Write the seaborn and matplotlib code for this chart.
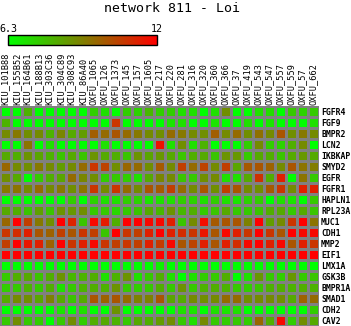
import numpy as np
import pandas as pd
import matplotlib
matplotlib.use("Agg")
import matplotlib.pyplot as plt
from matplotlib.colors import LinearSegmentedColormap
from matplotlib.cm import ScalarMappable
from matplotlib.colors import Normalize
import seaborn as sns

title = "network 811 - Loi"
vmin, vmax = 6.3, 12

samples = [
    "KIU_101B88", "KIU_155B52", "KIU_164B61", "KIU_188B13", "KIU_303C36",
    "KIU_304C89", "KIU_308C93", "KIU_86A40", "OXFU_1065", "OXFU_126",
    "OXFU_1373", "OXFU_145", "OXFU_157", "OXFU_1605", "OXFU_217",
    "OXFU_220", "OXFU_281", "OXFU_316", "OXFU_320", "OXFU_360",
    "OXFU_366", "OXFU_37", "OXFU_419", "OXFU_543", "OXFU_547",
    "OXFU_557", "OXFU_559", "OXFU_57", "OXFU_662",
]

genes = [
    "FGFR4", "FGF9", "BMPR2", "LCN2", "IKBKAP", "SMYD2", "EGFR", "FGFR1",
    "HAPLN1", "RPL23A", "MUC1", "CDH1", "MMP2", "EIF1", "LMX1A", "GSK3B",
    "BMPR1A", "SMAD1", "CDH2", "CAV2",
]

FGFR4 = [6.0, 6.1, 8.0, 6.0, 6.1, 6.0, 6.1, 6.0, 7.4, 7.0, 6.0, 7.4, 7.3, 7.9, 7.4,
         7.4, 7.0, 7.0, 6.1, 7.0, 8.8, 6.0, 6.1, 7.0, 7.1, 6.2, 7.5, 7.3, 7.5]
FGF9 = [8.0, 6.0, 6.1, 6.0, 6.0, 6.1, 6.0, 6.0, 6.1, 6.2, 10.8, 6.0, 6.1, 6.0, 6.1,
        6.9, 7.0, 6.2, 6.0, 6.9, 6.1, 6.0, 7.0, 6.1, 6.9, 6.2, 6.0, 6.1, 7.0]
BMPR2 = [8.9, 9.3, 8.8, 8.9, 8.0, 9.0, 8.2, 8.5, 9.9, 9.6, 10.1, 9.6, 9.3, 8.9, 8.8,
         9.6, 9.3, 8.9, 8.8, 9.9, 8.9, 9.6, 8.8, 9.5, 8.9, 10.1, 8.8, 9.3, 8.9]
LCN2 = [6.0, 6.1, 9.4, 6.0, 7.0, 6.0, 6.1, 6.0, 6.1, 7.0, 6.0, 6.1, 6.0, 6.2, 11.6,
        7.0, 8.8, 7.0, 8.0, 6.0, 6.1, 6.0, 7.4, 8.9, 7.4, 7.3, 8.1, 8.9, 6.0]
IKBKAP = [8.2, 8.1, 8.7, 8.3, 8.0, 7.6, 8.2, 7.6, 8.7, 8.2, 8.1, 7.6, 8.7, 8.3, 8.6,
          8.2, 7.6, 8.1, 8.2, 7.6, 8.7, 8.6, 7.5, 8.2, 8.1, 7.6, 8.2, 8.6, 8.2]
SMYD2 = [9.7, 8.9, 8.8, 9.3, 8.9, 8.5, 8.9, 9.6, 10.8, 10.5, 8.8, 9.7, 9.6, 8.8, 10.0,
         8.9, 10.6, 9.6, 10.5, 8.9, 10.6, 8.3, 10.0, 10.1, 9.8, 8.9, 10.1, 9.4, 9.2]
EGFR = [8.8, 8.2, 6.0, 7.5, 8.1, 8.3, 9.6, 9.0, 8.8, 7.4, 7.5, 7.4, 7.0, 8.2, 9.0,
        8.9, 7.6, 7.5, 8.8, 8.9, 7.0, 7.0, 8.2, 10.9, 8.1, 11.3, 6.1, 9.4, 7.5]
FGFR1 = [9.3, 9.4, 8.9, 9.6, 8.9, 9.3, 8.8, 9.4, 10.8, 8.9, 10.8, 9.6, 8.9, 10.1, 10.0,
         10.6, 9.6, 8.9, 10.1, 8.8, 10.6, 10.1, 8.9, 8.8, 10.0, 10.8, 8.9, 11.3, 11.3]
HAPLN1 = [6.0, 6.1, 6.0, 6.1, 6.0, 6.1, 7.4, 6.0, 7.3, 7.0, 7.0, 7.4, 7.3, 6.9, 7.0,
          7.0, 7.4, 7.3, 7.0, 7.4, 7.0, 6.9, 7.3, 7.4, 6.1, 7.0, 6.9, 6.0, 7.5]
RPL23A = [8.2, 8.1, 7.6, 8.4, 7.6, 8.7, 8.6, 8.8, 7.5, 7.5, 7.2, 7.5, 7.6, 8.2, 7.9,
          8.7, 7.9, 8.1, 7.5, 7.6, 8.2, 7.5, 7.5, 7.6, 8.1, 8.2, 7.5, 8.2, 7.6]
MUC1 = [9.7, 12.1, 10.6, 9.3, 8.8, 12.3, 11.2, 7.6, 11.8, 11.4, 8.1, 12.2, 12.0, 11.8, 11.8,
        11.3, 7.6, 8.9, 11.7, 10.0, 10.1, 10.1, 9.1, 12.0, 8.5, 8.9, 10.8, 12.3, 9.4]
CDH1 = [10.8, 11.0, 11.3, 10.1, 9.8, 10.6, 10.1, 10.8, 10.6, 7.6, 12.1, 10.8, 10.6, 11.3, 12.0,
        11.3, 11.0, 10.8, 11.5, 10.1, 11.8, 11.3, 10.8, 12.1, 10.8, 10.1, 12.3, 11.8, 11.8]
MMP2 = [10.6, 12.1, 11.5, 11.3, 9.8, 12.3, 10.8, 11.3, 11.8, 10.8, 10.6, 10.8, 10.6, 11.3, 10.7,
        11.8, 10.1, 10.5, 11.3, 10.1, 11.3, 11.0, 11.8, 12.2, 11.3, 11.8, 10.1, 11.3, 10.8]
EIF1 = [12.4, 12.6, 12.3, 12.5, 12.2, 12.4, 12.7, 12.3, 12.5, 12.2, 12.6, 12.4, 12.3, 12.5, 12.4,
        12.6, 12.2, 12.5, 12.3, 12.4, 12.6, 12.3, 12.5, 12.2, 12.4, 12.6, 12.3, 12.5, 12.4]
LMX1A = [5.8, 5.9, 6.0, 5.7, 5.9, 6.0, 5.8, 5.9, 5.7, 6.0, 5.8, 5.9, 6.0, 5.8, 6.6,
         5.9, 6.0, 5.8, 5.7, 5.9, 6.0, 5.8, 5.9, 6.0, 5.7, 5.8, 6.0, 5.9, 5.8]
GSK3B = [7.5, 8.1, 8.2, 7.6, 8.1, 8.7, 7.9, 8.0, 8.1, 7.0, 8.0, 8.7, 7.0, 7.5, 8.1,
         7.0, 6.1, 7.0, 7.4, 7.5, 8.1, 6.0, 7.0, 8.6, 7.5, 7.4, 8.6, 7.5, 7.6]
BMPR1A = [7.4, 7.5, 8.0, 7.5, 8.1, 7.0, 7.5, 8.0, 8.1, 8.0, 8.7, 7.5, 7.4, 7.5, 8.1,
          7.5, 8.7, 7.5, 8.0, 8.1, 8.0, 7.5, 7.4, 7.6, 8.0, 8.1, 8.0, 8.1, 8.0]
SMAD1 = [8.2, 8.9, 8.8, 8.3, 9.1, 8.2, 7.6, 8.2, 10.1, 9.8, 10.1, 9.6, 9.1, 9.1, 10.1,
         8.3, 8.2, 8.9, 8.8, 8.9, 9.6, 9.6, 8.8, 8.9, 8.9, 8.8, 8.2, 9.8, 9.6]
CDH2 = [6.0, 6.1, 6.0, 6.1, 6.0, 6.9, 6.1, 7.0, 6.2, 6.0, 8.7, 6.0, 6.1, 6.0, 6.2,
        6.1, 7.0, 6.9, 6.0, 7.0, 6.9, 7.0, 6.1, 6.0, 6.1, 6.0, 6.1, 6.0, 7.4]
CAV2 = [7.5, 8.8, 7.5, 7.4, 6.1, 7.5, 8.8, 7.4, 8.1, 8.2, 8.0, 7.5, 8.2, 8.1, 8.5,
        8.8, 7.5, 7.0, 8.9, 7.5, 7.4, 7.5, 7.4, 9.7, 8.1, 11.8, 7.4, 8.8, 8.2]

rows = [FGFR4, FGF9, BMPR2, LCN2, IKBKAP, SMYD2, EGFR, FGFR1, HAPLN1, RPL23A,
        MUC1, CDH1, MMP2, EIF1, LMX1A, GSK3B, BMPR1A, SMAD1, CDH2, CAV2]
expr = pd.DataFrame(rows, index=genes, columns=samples)

mono = "DejaVu Sans Mono"
W, H = 351, 326
fig = plt.figure(figsize=(W / 100, H / 100), dpi=100)
fig.patch.set_facecolor("white")

cmap = LinearSegmentedColormap.from_list("green_red", ["#00ff00", "#ff0000"])

# heat map grid: 29 columns x 20 rows of 11 px cells
ax = fig.add_axes([0, 0, 319 / W, 220 / H])
sns.heatmap(expr, cmap=cmap, vmin=vmin, vmax=vmax, cbar=False,
            linewidths=0.75, linecolor="#808080", ax=ax)
ax.set_xlabel("")
ax.set_ylabel("")
ax.xaxis.tick_top()
ax.set_xticks(np.arange(len(samples)) + 0.5)
ax.set_xticklabels(samples, rotation=90, fontsize=6.2, family=mono)
ax.yaxis.tick_right()
ax.set_yticks(np.arange(len(genes)) + 0.5)
ax.set_yticklabels(genes, rotation=0, fontsize=5.9, family=mono, fontweight="bold")
ax.tick_params(axis="both", length=0)
ax.tick_params(axis="x", pad=1)
ax.tick_params(axis="y", pad=1.5)

# colour key above the grid
cax = fig.add_axes([8 / W, 1 - 45 / H, 149 / W, 10 / H])
sm = ScalarMappable(norm=Normalize(vmin=vmin, vmax=vmax), cmap=cmap)
cb = fig.colorbar(sm, cax=cax, orientation="horizontal", ticks=[vmin, vmax])
cb.ax.xaxis.set_ticks_position("top")
cb.ax.set_xticklabels(["6.3", "12"], fontsize=7.2, family=mono)
cb.ax.tick_params(length=0, pad=1)
cb.outline.set_edgecolor("black")
cb.outline.set_linewidth(1.0)

fig.text(172 / W, 1 - 9 / H, title, ha="center", va="center",
         fontsize=9.5, family=mono)

fig.savefig("out.png", dpi=100)
